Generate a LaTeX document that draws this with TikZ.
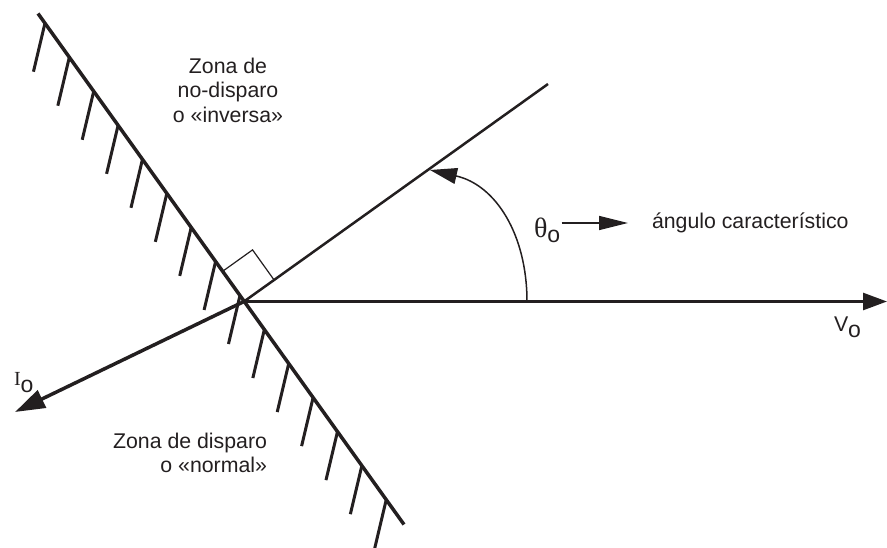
\documentclass[tikz,border=0pt]{standalone}
\usepackage{fontspec}
\setmainfont{Liberation Sans}
\newfontfamily\serifgr{Liberation Serif}
\usetikzlibrary{arrows.meta,calc}
\definecolor{ink}{RGB}{35,31,32}
\begin{document}
\begin{tikzpicture}[x=1pt,y=-1pt,
  boundary/.style={draw=ink, line width=3.5pt},
  hatchline/.style={draw=ink, line width=3pt},
  vecline/.style={draw=ink, line width=2.7pt},
  charline/.style={draw=ink, line width=2.5pt},
  ivec/.style={draw=ink, line width=3.5pt, -{Triangle[length=30pt,width=19pt]}},
  vvec/.style={draw=ink, line width=2.7pt, -{Triangle[length=24pt,width=17pt]}},
  arcline/.style={draw=ink, line width=1.5pt, -{Triangle[length=27pt,width=16pt]}},
  thinarrow/.style={draw=ink, line width=1.5pt, -{Triangle[length=29pt,width=14pt]}},
  thinline/.style={draw=ink, line width=1.2pt},
  lbl/.style={inner sep=0pt, outer sep=0pt, text=ink, font=\fontsize{21.3}{24.5}\selectfont}]
\useasboundingbox (0,0) rectangle (887,547);
% key points
\coordinate (O) at (244,301.5);
\coordinate (A) at (38,13.5);
\coordinate (B) at (404,524.5);
\coordinate (C) at (548,84);
\coordinate (Vtip) at (887,301.5);
\coordinate (Itip) at (15,412);
\coordinate (arcS) at (527,301.5);
\coordinate (arcE) at (430,170);
\coordinate (Tend) at (628,223);
% boundary line with hatching
\draw[boundary] (A) -- (B);
\foreach \k in {0,...,14} {
  \pgfmathsetmacro\s{0.019+0.0666*\k}
  \draw[hatchline] ($(A)!\s!(B)$) -- ++(-11.5,48.5);
}
% characteristic line
\draw[charline] (O) -- (C);
% V and I vectors
\draw[vvec] (O) -- (Vtip);
\draw[ivec] (O) -- (Itip);
% right angle mark
\coordinate (R1) at ($(O)!37pt!(A)$);
\coordinate (R2) at ($(O)!37pt!(C)$);
\coordinate (R3) at ($(R1)+(R2)-(O)$);
\draw[thinline] (R1) -- (R3) -- (R2);
% angle arc
\draw[arcline] (arcS) .. controls (527,235) and (496,185) .. (arcE);
% labels
\node[lbl, anchor=north, align=center] (zinv) at (228,58) {Zona de\\no-disparo\\o «inversa»};
\node[lbl, anchor=north east, align=right] (znorm) at (267,433) {Zona de disparo\\o «normal»};
\node[lbl, anchor=base west] (theta) at (534,237) {{\serifgr\fontsize{28}{28}\selectfont θ}\raisebox{-5pt}{\fontsize{23}{23}\selectfont o}};
\node[lbl, anchor=base west] (angtxt) at (652,228) {ángulo característico};
\node[lbl, anchor=base west] (Vlab) at (834,331) {V\raisebox{-6pt}{\fontsize{23}{23}\selectfont o}};
\node[lbl, anchor=base west] (Ilab) at (14,385) {{\serifgr\fontsize{20}{20}\selectfont I}\raisebox{-7pt}{\fontsize{23}{23}\selectfont o}};
\draw[thinarrow] ([xshift=1.5pt]theta.east |- Tend) -- (Tend);
\end{tikzpicture}
\end{document}
